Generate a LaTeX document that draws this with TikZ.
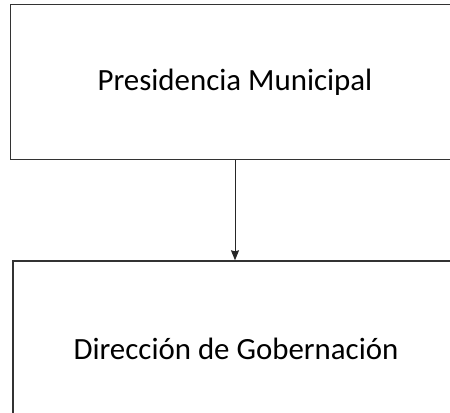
\documentclass[tikz,border=0pt]{standalone}
\usepackage{fontspec}
\setmainfont{Carlito}
\usetikzlibrary{arrows.meta}

\begin{document}
\begin{tikzpicture}[x=1bp, y=-1bp]
\tikzstyle{unit}=[draw=black!80, line width=1.4bp, rectangle, inner sep=0pt, font=\fontsize{31}{37}\selectfont]

\useasboundingbox (0,0) rectangle (450,412);
\clip (0,0) rectangle (450,412);

\draw (235,82) node[unit, minimum width=449bp, minimum height=155bp] (pres) {Presidencia Municipal};
\draw (236,349) node[unit, minimum width=446bp, minimum height=176bp] (gob) {Dirección de Gobernación};

\draw[black!85, line width=1bp, -{Stealth[length=10bp, width=8bp, inset=1bp]}] (pres.south -| 235,0) -- (gob.north -| 235,0);
\end{tikzpicture}
\end{document}
